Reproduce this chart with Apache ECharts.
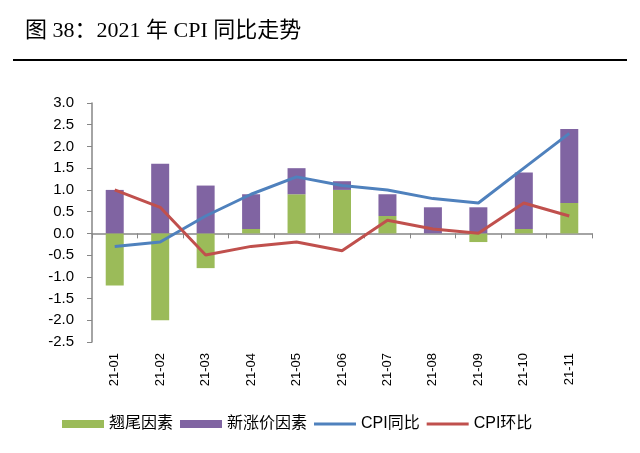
<!DOCTYPE html>
<html><head><meta charset="utf-8">
<script src="https://cdn.jsdelivr.net/npm/echarts@6/dist/echarts.min.js"></script>
<style>html,body{margin:0;padding:0;background:#fff}#c{width:640px;height:453px}</style>
</head><body><div id="c"></div>
<script>
var categories = ['21-01','21-02','21-03','21-04','21-05','21-06','21-07','21-08','21-09','21-10','21-11'];
var tailFactor = [-1.2, -2.0, -0.8, 0.1, 0.9, 1.0, 0.4, 0.0, -0.2, 0.1, 0.7];
var newFactor  = [1.0, 1.6, 1.1, 0.8, 0.6, 0.2, 0.5, 0.6, 0.6, 1.3, 1.7];
var cpiYoY     = [-0.3, -0.2, 0.4, 0.9, 1.3, 1.1, 1.0, 0.8, 0.7, 1.5, 2.3];
var cpiMoM     = [1.0, 0.6, -0.5, -0.3, -0.2, -0.4, 0.3, 0.1, 0.0, 0.7, 0.4];
var yTicks = ['-2.5','-2.0','-1.5','-1.0','-0.5','0.0','0.5','1.0','1.5','2.0','2.5','3.0'];

var chart = echarts.init(document.getElementById('c'), null, {renderer:'canvas'});
var axisColor = '#868686';
var txt = '#000';
var font = '"Liberation Sans","Noto Sans CJK SC",sans-serif';
var lineIcon = 'path://M0,0L42,0L42,3L0,3Z';
chart.setOption({
  animation:false,
  backgroundColor:'#fff',
  graphic:[
    {type:'text', left:25, top:20, style:{text:'图 38：2021 年 CPI 同比走势', fontSize:22, fontFamily:'"Liberation Serif","Noto Sans CJK SC",serif', fill:'#000'}},
    {type:'rect', shape:{x:13, y:59, width:614, height:2}, style:{fill:'#000'}}
  ],
  grid:{left:92, right:48, top:103, bottom:111, containLabel:false, outerBoundsMode:'none'},
  legend:{
    top:411, left:57, itemWidth:42, itemHeight:8, itemGap:7, symbolKeepAspect:true,
    textStyle:{fontSize:16, color:'#000', fontFamily:font},
    data:[
      {name:'翘尾因素', icon:'rect'},
      {name:'新涨价因素', icon:'rect'},
      {name:'CPI同比', icon:lineIcon},
      {name:'CPI环比', icon:lineIcon}
    ]
  },
  xAxis:[{
    type:'category', data:categories, boundaryGap:true,
    axisLine:{onZero:true, lineStyle:{color:axisColor, width:1.5}},
    axisTick:{show:true, inside:false, length:5, lineStyle:{color:axisColor}},
    axisLabel:{show:false}
  },{
    type:'category', data:categories, boundaryGap:true, position:'bottom',
    axisLine:{show:false, onZero:false}, axisTick:{show:false},
    axisLabel:{rotate:90, color:txt, fontSize:13, fontFamily:font, interval:0, margin:11}
  }],
  yAxis:{
    type:'value', min:-2.5, max:3.0, interval:0.5,
    axisLine:{show:true, lineStyle:{color:axisColor, width:1.5}},
    axisTick:{show:true, length:5, lineStyle:{color:axisColor}},
    splitLine:{show:false},
    axisLabel:{color:txt, fontSize:15, fontFamily:font, margin:18, formatter:function(v){return v.toFixed(1);}}
  },
  series:[
    {name:'翘尾因素', type:'bar', stack:'a', data:tailFactor, barWidth:18, itemStyle:{color:'#9BBB59'}},
    {name:'新涨价因素', type:'bar', stack:'a', data:newFactor, barWidth:18, itemStyle:{color:'#8064A2'}},
    {name:'CPI同比', type:'line', data:cpiYoY, symbol:'none', lineStyle:{color:'#4F81BD', width:3}, itemStyle:{color:'#4F81BD'}},
    {name:'CPI环比', type:'line', data:cpiMoM, symbol:'none', lineStyle:{color:'#C0504D', width:3}, itemStyle:{color:'#C0504D'}}
  ]
});
</script></body></html>
